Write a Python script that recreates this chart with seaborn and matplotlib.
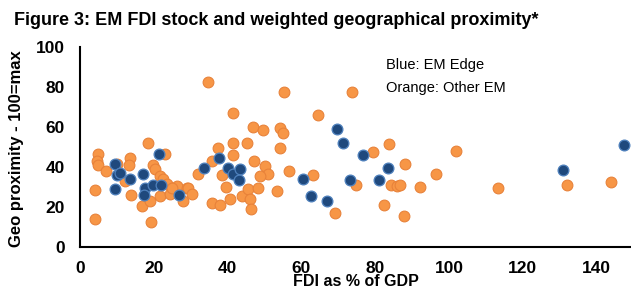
import pandas as pd
import matplotlib
matplotlib.use("Agg")
import matplotlib.pyplot as plt
import seaborn as sns

# ---- Data ---------------------------------------------------
# Orange: Other EM  (FDI as % of GDP, geo proximity)
other_x = [4.1, 4.2, 5.0, 4.7, 5.0, 7.1, 10.1, 13.6, 13.4, 18.5, 19.7, 20.3,
           13.7, 12.2, 16.7, 19.3, 21.7, 22.6, 23.0, 21.7, 19.0, 26.2, 28.9,
           28.0, 24.4, 29.3, 30.3, 23.5, 24.8, 32.0, 35.7, 37.5, 35.7, 37.9,
           40.7, 41.4, 38.4, 39.6, 41.5, 41.4, 34.8, 47.0, 49.7, 45.2, 47.2,
           50.1, 51.0, 48.8, 44.0, 45.6, 46.2, 46.3, 48.3, 53.3, 54.2, 55.0,
           54.2, 55.2, 56.6, 63.2, 64.6, 69.1, 73.8, 74.8, 79.3, 83.8, 84.4,
           85.8, 86.6, 82.4, 87.8, 88.1, 92.1, 96.6, 101.9, 113.4, 132.0, 144.0]
other_y = [28.3, 13.8, 46.7, 43.0, 40.8, 37.8, 41.7, 44.3, 41.0, 51.8, 41.0, 38.8,
           25.8, 33.0, 20.3, 12.6, 35.5, 33.8, 46.3, 25.5, 23.0, 30.5, 29.7,
           23.0, 26.3, 29.3, 26.7, 31.3, 29.7, 36.3, 43.0, 49.7, 22.0, 21.0,
           24.0, 46.0, 36.0, 30.0, 51.8, 67.0, 82.3, 60.0, 58.5, 51.8, 42.8,
           40.3, 36.3, 35.3, 25.5, 29.0, 24.0, 19.0, 29.7, 28.0, 59.5, 57.2,
           49.5, 77.5, 38.0, 36.0, 66.0, 16.8, 77.5, 31.0, 47.5, 51.7, 31.0,
           30.5, 31.0, 21.0, 15.5, 41.3, 30.0, 36.3, 48.0, 29.3, 30.8, 32.7]

# Blue: EM Edge
edge_x = [9.6, 10.1, 10.8, 9.4, 13.6, 17.2, 17.5, 17.3, 19.7, 21.9, 21.5, 26.9,
          33.5, 37.6, 40.2, 41.5, 43.3, 43.0, 60.5, 62.5, 67.0, 69.7, 71.4,
          76.6, 73.2, 81.1, 83.6, 131.0, 147.5]
edge_y = [41.3, 36.0, 37.0, 28.8, 33.8, 36.7, 29.5, 25.9, 31.2, 31.2, 46.5, 25.9,
          39.7, 44.5, 39.5, 36.7, 38.8, 33.4, 33.8, 25.5, 23.0, 59.2, 51.8,
          46.0, 33.3, 33.3, 39.7, 38.3, 50.8]

x_ticks = [0, 20, 40, 60, 80, 100, 120, 140]
y_ticks = [0, 20, 40, 60, 80, 100]

other = pd.DataFrame({"fdi": other_x, "geo": other_y})
edge = pd.DataFrame({"fdi": edge_x, "geo": edge_y})

# ---- Style ---------------------------------------------------
sns.set_style("white")
narrow = ["Liberation Sans Narrow", "Liberation Sans", "DejaVu Sans"]
plt.rcParams["font.family"] = narrow
plt.rcParams["text.color"] = "black"
plt.rcParams["axes.labelcolor"] = "black"
plt.rcParams["xtick.color"] = "black"
plt.rcParams["ytick.color"] = "black"

fig = plt.figure(figsize=(6.31, 2.90), dpi=100)
ax = fig.add_axes([80 / 631, 43 / 290, 551 / 631, 200 / 290])

sns.scatterplot(data=other, x="fdi", y="geo", color="#F79646",
                edgecolor="#E8823A", linewidth=0.8, s=60, ax=ax, zorder=3)
sns.scatterplot(data=edge, x="fdi", y="geo", color="#1F497D",
                edgecolor="#4F81BD", linewidth=0.9, s=60, ax=ax, zorder=4)

ax.set_xlim(0, 551 / 3.69)
ax.set_ylim(0, 100)
ax.set_xticks(x_ticks)
ax.set_yticks(y_ticks)
ax.tick_params(axis="both", direction="out", length=5, width=1.5,
               color="black", labelcolor="black", labelsize=12.5, pad=6)
ax.tick_params(axis="x", pad=5)
for lab in ax.get_xticklabels() + ax.get_yticklabels():
    lab.set_fontweight("bold")

for side in ["top", "right"]:
    ax.spines[side].set_visible(False)
for side in ["left", "bottom"]:
    ax.spines[side].set_color("black")
    ax.spines[side].set_linewidth(1.5)

# x label sits low, right under the tick labels, as in the source
ax.set_xlabel("FDI as % of GDP", fontsize=11.5, fontweight="bold",
              color="black", labelpad=-1)
ax.set_ylabel("")

fig.text(17 / 631, 1 - 149 / 290, "Geo proximity - 100=max", rotation=90,
         ha="center", va="center", fontsize=12, fontweight="bold")
fig.text(14 / 631, 1 - 12 / 290,
         "Figure 3: EM FDI stock and weighted geographical proximity*",
         ha="left", va="top", fontsize=13, fontweight="bold")

fig.text(386 / 631, 1 - 65 / 290, "Blue: EM Edge",
         ha="left", va="center", fontsize=10.5, family="Liberation Sans")
fig.text(386 / 631, 1 - 88 / 290, "Orange: Other EM",
         ha="left", va="center", fontsize=10.5, family="Liberation Sans")

fig.savefig("out.png", dpi=100)
